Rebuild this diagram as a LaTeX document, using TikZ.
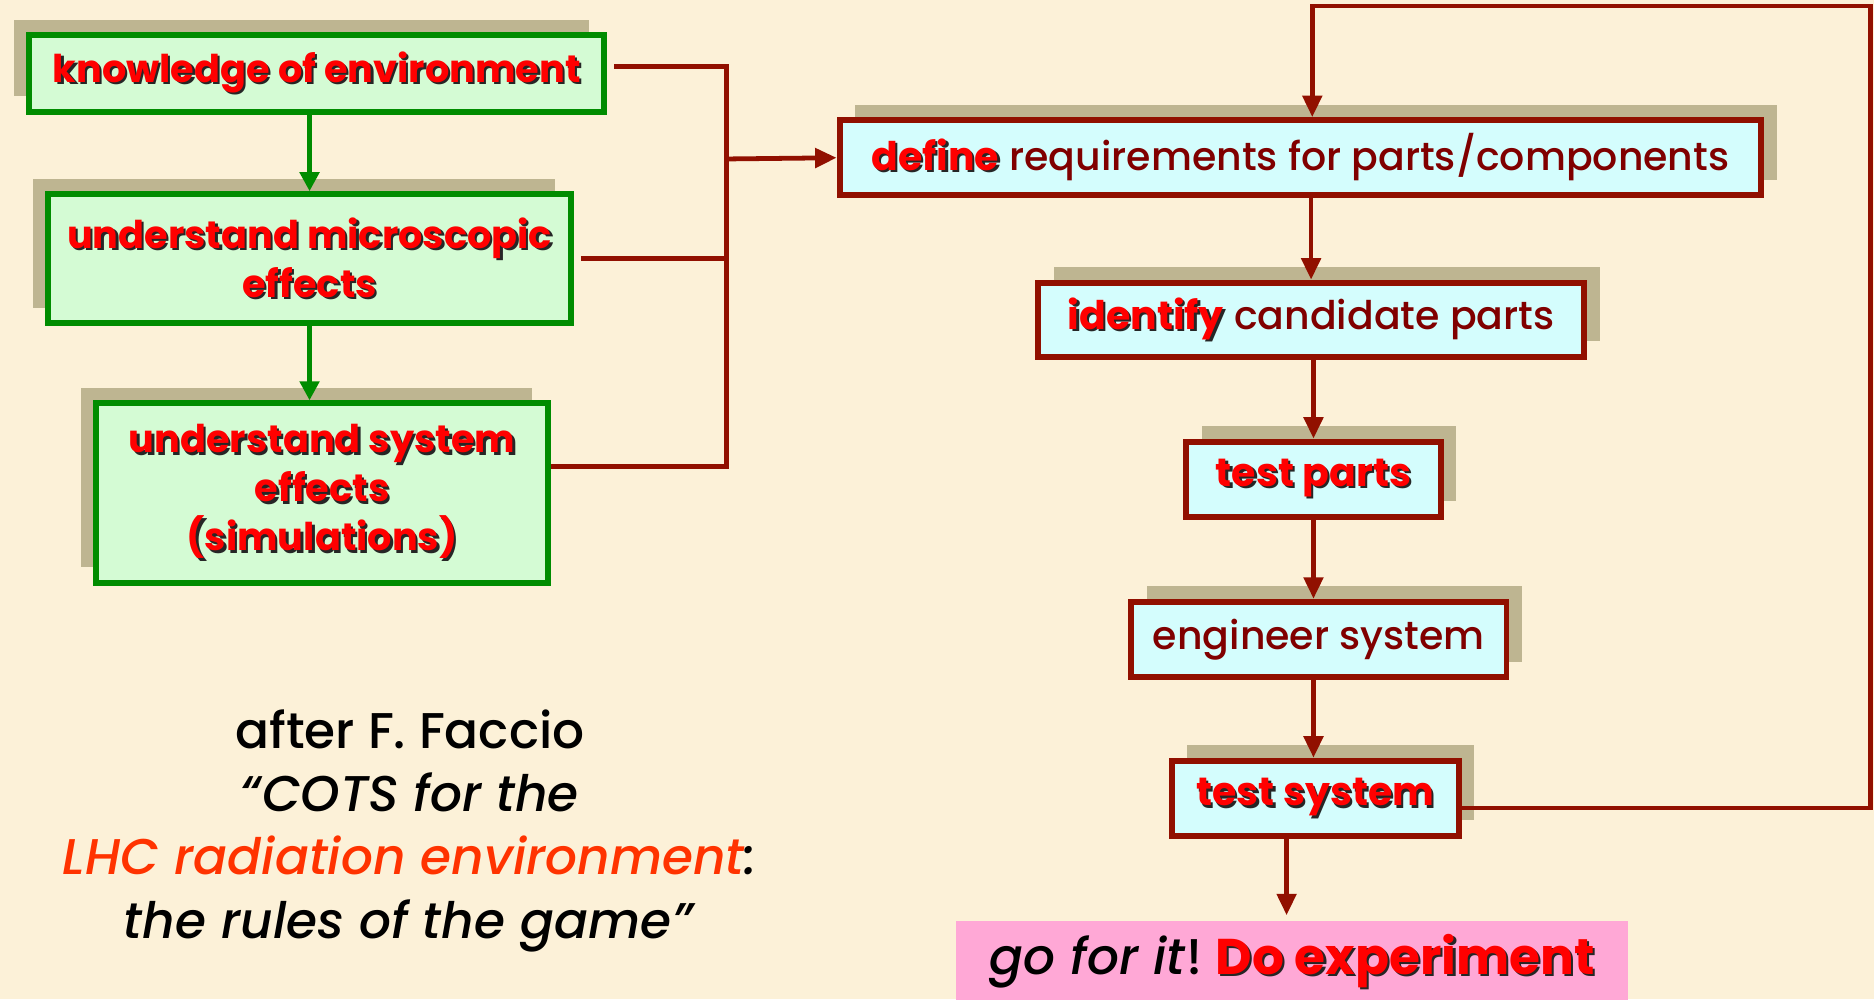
\documentclass[tikz,border=0pt]{standalone}
\usepackage{fontspec}
\setmainfont{Poppins}
\newfontfamily\plainmed{Poppins Medium}
\usetikzlibrary{arrows.meta, shadows, positioning}
\definecolor{PaperCream}{RGB}{252,241,216}
\definecolor{ShadowTan}{RGB}{190,181,145}
\definecolor{LeafGreen}{RGB}{0,140,0}
\definecolor{MintFill}{RGB}{212,251,212}
\definecolor{BrickRed}{RGB}{145,16,0}
\definecolor{IceFill}{RGB}{212,253,253}
\definecolor{WineText}{RGB}{128,0,0}
\definecolor{FlagRed}{RGB}{255,0,0}
\definecolor{CiteOrange}{RGB}{255,51,0}
\definecolor{PinkFill}{RGB}{255,168,214}
% red word with a dark drop behind it; the rest of the line stays plain
\newcommand{\popout}[1]{\makebox[0pt][l]{\kern2pt\raisebox{-2pt}{\color{black!85}#1}}#1}
\newcommand{\popmix}[4]{\makebox[0pt][l]{\kern2pt\raisebox{-2pt}{\color{#1}#2\textbf{\color{black!85}#3}#4}}#2\textbf{\color{FlagRed}#3}#4}

\begin{document}
\begin{tikzpicture}[
        x=1pt, y=-1pt,
        greenbox/.style={draw=LeafGreen, fill=MintFill, rectangle, line width=5pt, inner sep=0pt, align=center, text=FlagRed, font=\fontsize{32}{41}\selectfont\bfseries, drop shadow={shadow xshift=-13pt, shadow yshift=13pt, fill=ShadowTan, opacity=1}},
        redbox/.style={draw=BrickRed, fill=IceFill, rectangle, line width=5pt, inner sep=0pt, align=center, text=WineText, font=\fontsize{33}{36}\selectfont, drop shadow={shadow xshift=13pt, shadow yshift=13pt, fill=ShadowTan, opacity=1}},
        garrow/.style={-{Triangle[length=16pt, width=16pt]}, line width=4pt, LeafGreen},
        rline/.style={line width=4pt, BrickRed},
        rarrow/.style={rline, -{Triangle[length=18pt, width=16pt]}}
      ]
        \useasboundingbox (0,0) rectangle (1568,836);
        \fill [PaperCream] (0,0) rectangle (1568,836);

        % Left column
        \node [greenbox, minimum width=481pt, minimum height=64pt] (know) at (265,61.5) {\popout{knowledge of environment}};
        \node [greenbox, minimum width=437pt, minimum height=108pt] (micro) at (259,216.5) {\popout{understand microscopic}\\\popout{effects}};
        \node [greenbox, minimum width=378pt, minimum height=150pt] (sysfx) at (269.5,412.5) {\popout{understand system}\\\popout{effects}\\\popout{(simulations)}};

        % Right column
        \node [redbox, minimum width=771pt, minimum height=63pt] (define) at (1088,132) {\popmix{IceFill}{}{define}{{\plainmed\ requirements for parts/components}}};
        \node [redbox, minimum width=457pt, minimum height=62pt] (identify) at (1097,267.5) {\popmix{IceFill}{}{identify}{{\plainmed\ candidate parts}}};
        \node [redbox, minimum width=213pt, minimum height=63pt] (testparts) at (1099,401) {\textbf{\color{FlagRed}\popout{test parts}}};
        \node [redbox, minimum width=314pt, minimum height=63pt] (engineer) at (1103.5,535) {\plainmed engineer system};
        \node [redbox, minimum width=240pt, minimum height=63pt] (testsys) at (1100.5,668) {\textbf{\color{FlagRed}\popout{test system}}};
        \node [fill=PinkFill, minimum width=562pt, minimum height=68pt, inner sep=0pt, font=\fontsize{42}{44}\selectfont] (go) at (1081,805) {\popmix{PinkFill}{{\plainmed\textit{go for it}!}\ }{Do experiment}{}};

        % Citation
        \node [align=center, font=\fontsize{42}{53}\plainmed] (cite) at (343,695) {after F. Faccio\\ \textit{“COTS for the}\\ \textit{\color{CiteOrange}LHC radiation environment}\textit{:}\\ \textit{the rules of the game”}};

        % Connections
        \draw [garrow] (micro.north |- know.south) -- (micro.north);
        \draw [garrow] (micro.south) -- (micro.south |- sysfx.north);
        \coordinate (join) at (608,133);
        \draw [rline] ([xshift=6pt, yshift=6pt]know.east) -| (join);
        \draw [rline] ([xshift=6pt]micro.east) -| (join);
        \draw [rline] ([yshift=22pt]sysfx.east) -| (join);
        \draw [rarrow] (join) -- (define.west);
        \draw [rarrow] (define.south -| identify.north) -- (identify.north);
        \draw [rarrow] (identify.south -| testparts.north) -- (testparts.north);
        \draw [rarrow] (testparts.south) -- (testparts.south |- engineer.north);
        \draw [rarrow] (testparts.south |- engineer.south) -- (testparts.south |- testsys.north);

        % Feedback loop
        \coordinate (loop) at (1565,5);
        \draw [rarrow] ([yshift=-8pt]testsys.east) -| (loop) -| ([xshift=10pt]define.north);
        \draw [rarrow, shorten >=5pt] ([xshift=-24pt]testsys.south) -- ([xshift=-24pt]testsys.south |- go.north);
      \end{tikzpicture}
\end{document}
